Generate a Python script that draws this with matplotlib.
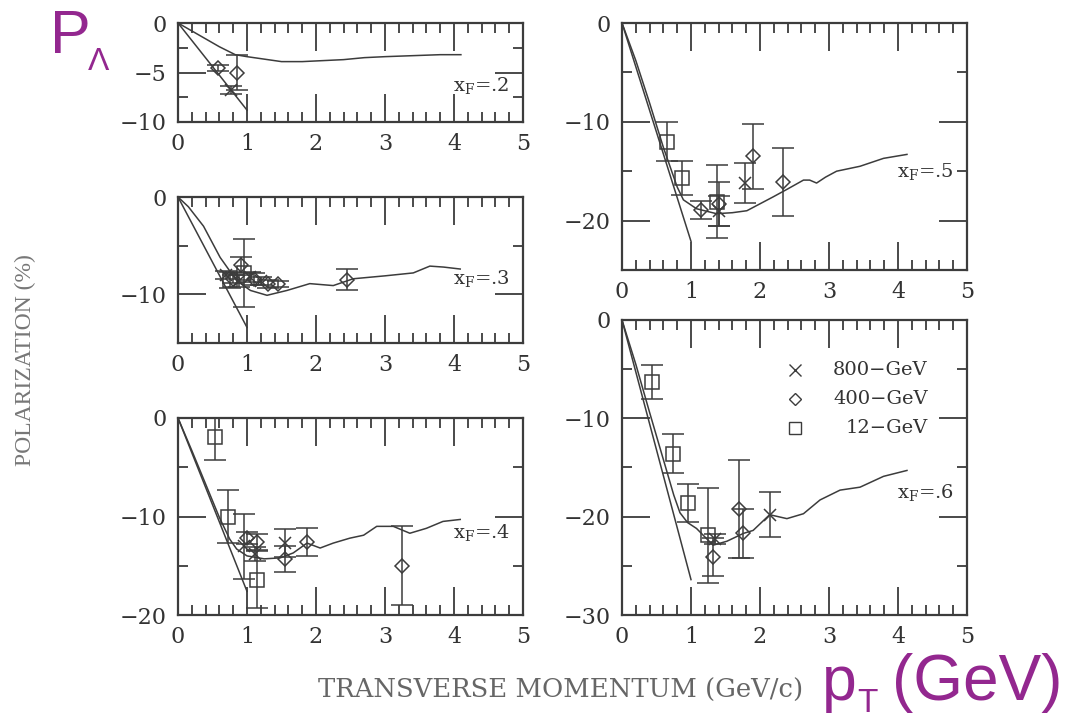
"""Lambda polarization vs transverse momentum, five x_F panels (scan reproduction)."""

import matplotlib

matplotlib.use("Agg")
import matplotlib.pyplot as plt
from matplotlib.ticker import MultipleLocator

W, H = 1080, 718
INK = "#3c3c3c"
PURPLE = "#93278f"

# ---- model curves (x = pT GeV/c, y = polarization %) ----
p2_mx = [0, 0.2, 0.4, 0.6, 0.83, 1.0, 1.2, 1.5, 1.8, 2.1, 2.4, 2.7, 3.0, 3.4, 3.8, 4.1]
p2_my = [0, -0.8, -1.6, -2.4, -3.2, -3.4, -3.6, -3.9, -3.9, -3.8, -3.7, -3.5, -3.4, -3.3, -3.2, -3.2]
p3_mx = [0, 0.15, 0.37, 0.61, 0.85, 1.05, 1.29, 1.58, 1.91, 2.25, 2.54, 3.0, 3.41, 3.65, 3.85, 4.09]
p3_my = [0, -1.0, -3.0, -6.2, -8.6, -9.6, -10.1, -9.6, -8.9, -9.1, -8.4, -8.1, -7.8, -7.1, -7.2, -7.4]
p4_mx = [0, 0.2, 0.4, 0.6, 0.75, 0.85, 1.0, 1.25, 1.48, 1.67, 1.87, 2.06, 2.25, 2.49, 2.69,
         2.88, 3.12, 3.36, 3.6, 3.84, 4.09]
p4_my = [0, -3.3, -6.7, -10.1, -12.3, -13.3, -14.0, -14.3, -14.2, -13.7, -12.7, -13.2, -12.7,
         -12.2, -11.9, -11.0, -11.0, -11.7, -11.2, -10.5, -10.3]
p5_mx = [0, 0.2, 0.4, 0.6, 0.8, 0.89, 1.08, 1.37, 1.6, 1.81, 2.0, 2.19, 2.4, 2.63, 2.72, 2.82,
         2.95, 3.11, 3.45, 3.79, 4.13]
p5_my = [0, -3.8, -8.1, -12.6, -16.6, -17.9, -18.8, -19.3, -19.2, -19.0, -18.3, -17.6, -16.8,
         -15.9, -15.9, -16.2, -15.6, -15.0, -14.5, -13.7, -13.3]
p6_mx = [0, 0.2, 0.4, 0.6, 0.75, 0.84, 0.95, 1.08, 1.32, 1.52, 1.76, 1.9, 2.14, 2.39, 2.63,
         2.87, 3.16, 3.45, 3.79, 4.13]
p6_my = [0, -4.5, -9.4, -14.2, -17.8, -19.6, -20.6, -21.2, -22.9, -22.5, -21.7, -21.4, -19.8,
         -20.2, -19.7, -18.3, -17.3, -17.0, -15.9, -15.3]

# straight low-pT lines: end value at pT = 1
p2_line = -8.8
p3_line = -13.4
p4_line = -17.6
p5_line = -22.1
p6_line = -26.4

# ---- data: 800 GeV (x), 400 GeV (diamond), 12 GeV (square) ----
p2_x800, p2_y800, p2_e800 = [0.77], [-6.8], [0.4]
p2_x400, p2_y400, p2_e400 = [0.58, 0.85], [-4.5, -5.0], [0.3, 1.8]
p2_x12, p2_y12, p2_e12 = [], [], []

p3_x800, p3_y800, p3_e800 = [0.7, 0.88, 1.05, 1.2], [-8.0, -8.6, -8.2, -8.6], [0.4, 0.6, 0.5, 0.4]
p3_x400 = [0.8, 0.92, 1.1, 1.3, 1.45, 2.45]
p3_y400 = [-8.4, -7.0, -8.4, -8.9, -8.9, -8.5]
p3_e400 = [0.4, 0.8, 0.6, 0.4, 0.3, 1.1]
p3_x12, p3_y12, p3_e12 = [0.75, 0.95], [-8.5, -7.8], [0.8, 3.5]

p4_x800, p4_y800, p4_e800 = [0.95, 1.12, 1.55], [-13.0, -13.8, -12.7], [3.3, 0.7, 1.4]
p4_x400 = [1.0, 1.15, 1.55, 1.87, 3.25]
p4_y400 = [-12.2, -12.6, -14.3, -12.6, -15.0]
p4_e400 = [0.6, 0.8, 1.3, 1.4, 4.0]
p4_x12, p4_y12, p4_e12 = [0.54, 0.73, 1.14], [-1.9, -10.0, -16.4], [2.4, 2.7, 2.9]

p5_x800, p5_y800, p5_e800 = [1.4, 1.78], [-19.0, -16.2], [1.5, 2.0]
p5_x400, p5_y400, p5_e400 = [1.15, 1.4, 1.9, 2.33], [-18.9, -18.3, -13.5, -16.1], [0.9, 2.2, 3.3, 3.4]
p5_x12, p5_y12, p5_e12 = [0.65, 0.87, 1.37], [-12.0, -15.7, -18.1], [2.0, 1.7, 3.7]

p6_x800, p6_y800, p6_e800 = [1.35, 2.14], [-22.3, -19.8], [0.5, 2.3]
p6_x400, p6_y400, p6_e400 = [1.32, 1.69, 1.76], [-24.1, -19.2, -21.7], [1.9, 5.0, 2.5]
p6_x12, p6_y12, p6_e12 = [0.43, 0.74, 0.96, 1.25], [-6.3, -13.6, -18.6, -21.9], [1.7, 2.0, 1.9, 4.8]

xf_labels = [".2", ".3", ".4", ".5", ".6"]
legend_labels = ["800\u2212GeV", "400\u2212GeV", "12\u2212GeV"]


def box(left, top, right, bottom):
    return [left / W, 1 - bottom / H, (right - left) / W, (bottom - top) / H]


def style_axes(ax, ymin, ymajor):
    ax.set_xlim(0, 5)
    ax.set_ylim(ymin, 0)
    ax.xaxis.set_major_locator(MultipleLocator(1))
    ax.xaxis.set_minor_locator(MultipleLocator(0.2))
    ax.yaxis.set_major_locator(MultipleLocator(ymajor))
    ax.yaxis.set_minor_locator(MultipleLocator(ymajor / 2))
    ax.tick_params(which="both", direction="in", top=True, right=True,
                   color=INK, width=1.3)
    ax.tick_params(which="major", length=20, pad=8, labelsize=16, labelcolor="#333")
    ax.tick_params(which="minor", length=7)
    for lab in ax.get_xticklabels() + ax.get_yticklabels():
        lab.set_family("DejaVu Serif")
    for sp in ax.spines.values():
        sp.set_color(INK)
        sp.set_linewidth(1.6)


def draw_panel(ax, mx, my, line_end, d800, d400, d12, xf, xf_y):
    ax.plot([0, 1], [0, line_end], color=INK, lw=1.1)
    ax.plot(mx, my, color=INK, lw=1.1)
    kw = dict(ls="none", color=INK, mfc="none", mec=INK, mew=1.1,
              elinewidth=1.1, capsize=8, capthick=1.1)
    if d800[0]:
        ax.errorbar(d800[0], d800[1], yerr=d800[2], fmt="x", ms=9, **kw)
    if d400[0]:
        ax.errorbar(d400[0], d400[1], yerr=d400[2], fmt="D", ms=7, **kw)
    if d12[0]:
        ax.errorbar(d12[0], d12[1], yerr=d12[2], fmt="s", ms=10, **kw)
    ax.text(3.98, xf_y, r"x$_{\rm F}$=" + xf, fontsize=14, color="#333",
            family="DejaVu Serif", va="center", ha="left")


def main():
    plt.rcParams["mathtext.fontset"] = "dejavuserif"
    fig = plt.figure(figsize=(W / 100, H / 100), dpi=100)

    ax1 = fig.add_axes(box(178, 23, 523, 122))
    ax2 = fig.add_axes(box(178, 197, 523, 343))
    ax3 = fig.add_axes(box(178, 418, 523, 615))
    ax4 = fig.add_axes(box(622, 23, 967, 270))
    ax5 = fig.add_axes(box(622, 320, 967, 615))

    draw_panel(ax1, p2_mx, p2_my, p2_line, (p2_x800, p2_y800, p2_e800),
               (p2_x400, p2_y400, p2_e400), (p2_x12, p2_y12, p2_e12), xf_labels[0], -6.3)
    draw_panel(ax2, p3_mx, p3_my, p3_line, (p3_x800, p3_y800, p3_e800),
               (p3_x400, p3_y400, p3_e400), (p3_x12, p3_y12, p3_e12), xf_labels[1], -8.4)
    draw_panel(ax3, p4_mx, p4_my, p4_line, (p4_x800, p4_y800, p4_e800),
               (p4_x400, p4_y400, p4_e400), (p4_x12, p4_y12, p4_e12), xf_labels[2], -11.6)
    draw_panel(ax4, p5_mx, p5_my, p5_line, (p5_x800, p5_y800, p5_e800),
               (p5_x400, p5_y400, p5_e400), (p5_x12, p5_y12, p5_e12), xf_labels[3], -15.0)
    draw_panel(ax5, p6_mx, p6_my, p6_line, (p6_x800, p6_y800, p6_e800),
               (p6_x400, p6_y400, p6_e400), (p6_x12, p6_y12, p6_e12), xf_labels[4], -17.5)

    style_axes(ax1, -10, 5)
    style_axes(ax2, -15, 10)
    style_axes(ax3, -20, 10)
    style_axes(ax4, -25, 10)
    style_axes(ax5, -30, 10)

    # hand-made legend in the x_F=.6 panel
    for mk, ms, yy, lab in zip(["x", "D", "s"], [9, 6, 8], [-5.1, -8.0, -11.0], legend_labels):
        ax5.plot([2.51], [yy], marker=mk, ms=ms, mfc="none", mec=INK, mew=1.0, ls="none")
        ax5.text(4.43, yy, lab, fontsize=14, color="#333", family="DejaVu Serif",
                 ha="right", va="center")

    fig.text(25 / W, 1 - 360 / H, "POLARIZATION (%)", rotation=90, fontsize=17,
             color="#777", family="Liberation Serif", ha="center", va="center")
    fig.text(318 / W, 1 - 690 / H, "TRANSVERSE MOMENTUM (GeV/c)", fontsize=18.6,
             color="#666", family="DejaVu Serif", ha="left", va="center")

    # purple overlay labels
    sans = "Liberation Sans"
    fig.text(50 / W, 1 - 53 / H, "P", fontsize=44, color=PURPLE, family=sans, va="baseline")
    fig.text(88 / W, 1 - 70 / H, "\u039b", fontsize=23, color=PURPLE, family=sans, va="baseline")
    fig.text(822 / W, 1 - 700 / H, "p", fontsize=45, color=PURPLE, family=sans, va="baseline")
    fig.text(857 / W, 1 - 712 / H, "T", fontsize=24, color=PURPLE, family=sans, va="baseline")
    fig.text(892 / W, 1 - 700 / H, "(GeV)", fontsize=46, color=PURPLE, family=sans, va="baseline")

    fig.savefig("out.png", dpi=100)
    plt.close(fig)


if __name__ == "__main__":
    main()
